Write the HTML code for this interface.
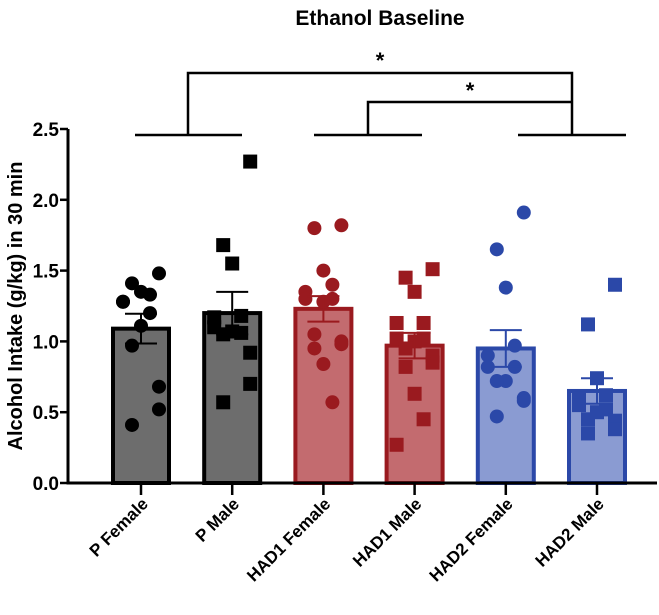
<!DOCTYPE html>
<html><head><meta charset="utf-8"><style>body{margin:0;background:#fff}svg{display:block;font-family:"Liberation Sans",Arial,sans-serif}</style></head>
<body>
<svg id="chart" width="659" height="615" viewBox="0 0 659 615">
<text x="380" y="25" text-anchor="middle" font-size="21" font-weight="bold">Ethanol Baseline</text>
<text transform="translate(22,306) rotate(-90)" text-anchor="middle" font-size="20" font-weight="bold">Alcohol Intake (g/kg) in 30 min</text>
<g id="plot"></g>
</svg>
<script>
const categories=["P Female","P Male","HAD1 Female","HAD1 Male","HAD2 Female","HAD2 Male"];
const means=[1.09,1.20,1.23,0.97,0.95,0.65];
const sems=[0.105,0.15,0.09,0.09,0.13,0.09];
const yTicks=[0,0.5,1.0,1.5,2.0,2.5];
const pts0=[1.48,1.41,1.35,1.33,1.28,1.28,1.20,1.11,0.97,0.68,0.52,0.41];
const pts1=[2.27,1.68,1.55,1.18,1.17,1.10,1.06,1.07,1.05,0.92,0.70,0.57];
const pts2=[1.82,1.80,1.50,1.40,1.35,1.30,1.30,1.28,1.05,1.00,0.98,0.95,0.84,0.57];
const pts3=[1.51,1.45,1.35,1.13,1.13,1.02,1.02,1.00,0.95,0.90,0.85,0.82,0.63,0.45,0.27];
const pts4=[1.91,1.65,1.38,0.97,0.90,0.82,0.82,0.72,0.72,0.60,0.58,0.47];
const pts5=[1.40,1.12,0.74,0.62,0.60,0.55,0.52,0.50,0.45,0.44,0.38,0.35];
const points=[pts0,pts1,pts2,pts3,pts4,pts5];
const NS="http://www.w3.org/2000/svg";
const g=document.getElementById('plot');
const y0=483,y1=129,ymax=2.5,x0=68,x1=657;
function yS(v){return y0-(y0-y1)*v/ymax;}
function xS(i){return 141+i*91.2;}
const fills=["#6d6d6d","#6d6d6d","#c36b6f","#c36b6f","#8a9bd2","#8a9bd2"];
const strokes=["#000","#000","#9a1a1f","#9a1a1f","#2b48a8","#2b48a8"];
function el(t,a){const e=document.createElementNS(NS,t);for(const k in a)e.setAttribute(k,a[k]);g.appendChild(e);return e;}
categories.forEach((c,i)=>{
  const cx=xS(i),bw=56;
  const b=el('rect',{x:cx-bw/2,y:yS(means[i]),width:bw,height:y0-yS(means[i]),fill:fills[i],stroke:strokes[i],'stroke-width':4});
  
  
  const circle=(i%2===0);
  points[i].forEach((v,j)=>{
    const dx=((j%5)-2)*9*(j%2?1:-1);
    const yy=yS(v);let m;
    if(circle)m=el('circle',{cx:cx+dx,cy:yy,r:7,fill:strokes[i]});
    else m=el('rect',{x:cx+dx-7,y:yy-7,width:14,height:14,fill:strokes[i]});
    
    
  });
  const e1=el('path',{d:`M${cx} ${yS(means[i]-sems[i])}V${yS(means[i]+sems[i])}M${cx-16} ${yS(means[i]+sems[i])}h32M${cx-16} ${yS(means[i]-sems[i])}h32`,stroke:strokes[i],'stroke-width':2,fill:'none'});
  
  
  const tk=el('line',{x1:cx,x2:cx,y1:y0,y2:y0+12,stroke:'#000','stroke-width':2.5});
  
  
  const t=el('text',{transform:`translate(${cx+8},${y0+22}) rotate(-45)`,'text-anchor':'end','font-size':17,'font-weight':'bold'});
  t.textContent=c;
  
  
});
const ax=el('path',{d:`M${x0} ${y1}V${y0}H${x1}`,stroke:'#000','stroke-width':3,fill:'none'});


yTicks.forEach(v=>{
  const l=el('line',{x1:x0-8,x2:x0,y1:yS(v),y2:yS(v),stroke:'#000','stroke-width':2.5});
  
  
  const t=el('text',{x:x0-9,y:yS(v)+7,'text-anchor':'end','font-size':19,'font-weight':'bold'});
  t.textContent=v.toFixed(1);
  
  
});
const br=el('path',{d:"M135 135H242M314 135H422M518 135H626M188 135V73H572V135M368 135V102H572",stroke:'#000','stroke-width':2.5,fill:'none'});


[[380,68],[470,98]].forEach((p,k)=>{
  const s=el('text',{x:p[0],y:p[1],'text-anchor':'middle','font-size':22,'font-weight':'bold'});
  s.textContent='*';
  
  
});
</script>
</body></html>
